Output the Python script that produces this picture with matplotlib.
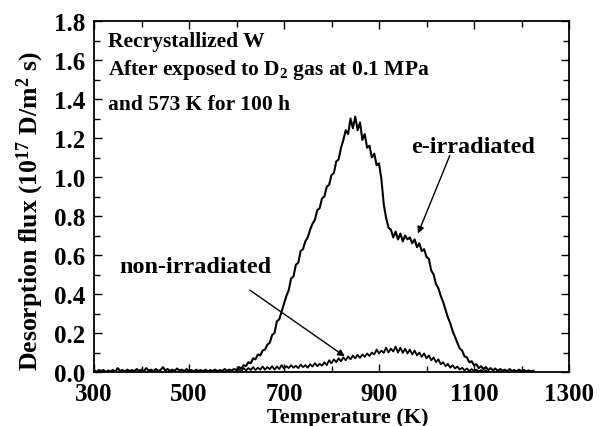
import matplotlib
matplotlib.use("Agg")
import matplotlib.pyplot as plt
from matplotlib.ticker import MultipleLocator, FixedLocator

plt.rcParams['font.family'] = ['Liberation Serif', 'DejaVu Serif']
plt.rcParams['font.weight'] = 'bold'
plt.rcParams['mathtext.fontset'] = 'custom'
plt.rcParams['mathtext.rm'] = 'Liberation Serif:bold'
plt.rcParams['mathtext.bf'] = 'Liberation Serif:bold'
plt.rcParams['mathtext.it'] = 'Liberation Serif:bold:italic'
plt.rcParams['mathtext.default'] = 'rm'

# e-irradiated: temperature (K) and desorption flux (1e17 D/m^2 s)
e_temp = list(range(300, 1230, 5))
e_flux = [
    0.010, 0.000, 0.010, 0.005, 0.010, 0.000, 0.008, 0.003, 0.010, 0.002,
    0.020, 0.005, 0.010, 0.003, 0.012, 0.005, 0.010, 0.004, 0.015, 0.006,
    0.012, 0.005, 0.020, 0.007, 0.012, 0.004, 0.015, 0.006, 0.010, 0.025,
    0.008, 0.015, 0.005, 0.012, 0.006, 0.018, 0.007, 0.012, 0.004, 0.015,
    0.006, 0.010, 0.003, 0.012, 0.005, 0.010, 0.004, 0.012, 0.003, 0.010,
    0.005, 0.012, 0.004, 0.010, 0.006, 0.015, 0.005, 0.012, 0.008, 0.015,
    0.010, 0.025, 0.018, 0.035, 0.030, 0.050, 0.045, 0.070, 0.065, 0.090,
    0.085, 0.110, 0.115, 0.140, 0.150, 0.190, 0.200, 0.260, 0.270, 0.310,
    0.350, 0.390, 0.420, 0.480, 0.490, 0.550, 0.560, 0.620, 0.630, 0.670,
    0.690, 0.730, 0.760, 0.780, 0.830, 0.840, 0.890, 0.900, 0.950, 0.960,
    1.010, 1.020, 1.080, 1.090, 1.150, 1.190, 1.240, 1.220, 1.300, 1.250,
    1.310, 1.240, 1.280, 1.190, 1.220, 1.150, 1.160, 1.100, 1.120, 1.060,
    1.070, 0.990, 0.860, 0.790, 0.740, 0.730, 0.690, 0.720, 0.680, 0.710,
    0.670, 0.700, 0.680, 0.690, 0.660, 0.680, 0.640, 0.660, 0.620, 0.630,
    0.590, 0.580, 0.520, 0.500, 0.450, 0.430, 0.390, 0.360, 0.320, 0.280,
    0.250, 0.210, 0.180, 0.150, 0.120, 0.110, 0.080, 0.075, 0.050, 0.055,
    0.035, 0.040, 0.020, 0.030, 0.015, 0.025, 0.010, 0.020, 0.008, 0.018,
    0.005, 0.015, 0.006, 0.012, 0.004, 0.015, 0.005, 0.010, 0.003, 0.012,
    0.004, 0.010, 0.003, 0.008, 0.002, 0.006,
]

# non-irradiated
n_temp = list(range(600, 1135, 5))
n_flux = [
    0.005, 0.015, 0.005, 0.020, 0.008, 0.020, 0.010, 0.025, 0.010, 0.022,
    0.012, 0.028, 0.012, 0.025, 0.015, 0.030, 0.012, 0.028, 0.015, 0.035,
    0.018, 0.030, 0.020, 0.035, 0.022, 0.032, 0.020, 0.038, 0.025, 0.035,
    0.022, 0.040, 0.028, 0.045, 0.030, 0.042, 0.032, 0.050, 0.035, 0.060,
    0.045, 0.065, 0.050, 0.070, 0.055, 0.075, 0.060, 0.080, 0.065, 0.085,
    0.070, 0.088, 0.072, 0.090, 0.078, 0.095, 0.082, 0.100, 0.090, 0.115,
    0.095, 0.110, 0.098, 0.125, 0.100, 0.120, 0.105, 0.130, 0.100, 0.125,
    0.098, 0.120, 0.095, 0.115, 0.090, 0.110, 0.085, 0.100, 0.078, 0.095,
    0.070, 0.085, 0.060, 0.075, 0.050, 0.065, 0.040, 0.050, 0.030, 0.042,
    0.022, 0.035, 0.018, 0.028, 0.012, 0.022, 0.008, 0.018, 0.005, 0.015,
    0.004, 0.012, 0.003, 0.010, 0.002, 0.008, 0.000,
]

x_ticks = [300, 500, 700, 900, 1100, 1300]
y_ticks = [0.0, 0.2, 0.4, 0.6, 0.8, 1.0, 1.2, 1.4, 1.6, 1.8]

fig = plt.figure(figsize=(6.04, 4.27), dpi=100)
ax = fig.add_axes([94/604, 54/427, 475/604, 351/427])

ax.plot(e_temp, e_flux, color='black', lw=1.5)
ax.plot(n_temp, n_flux, color='black', lw=1.3)

ax.set_xlim(300, 1300)
ax.set_ylim(0, 1.8)
ax.xaxis.set_major_locator(FixedLocator(x_ticks))
ax.xaxis.set_minor_locator(MultipleLocator(100))
ax.yaxis.set_major_locator(FixedLocator(y_ticks))
ax.yaxis.set_minor_locator(MultipleLocator(0.1))
ax.set_xticklabels([str(t) for t in x_ticks])
ax.set_yticklabels([f"{t:.1f}" for t in y_ticks])

ax.tick_params(which='both', direction='in', top=True, right=True, width=1.0)
ax.tick_params(which='major', length=6, labelsize=18, pad=6)
ax.tick_params(axis='x', which='major', pad=7)
ax.tick_params(which='minor', length=4)
for lab in ax.get_xticklabels() + ax.get_yticklabels():
    lab.set_fontweight('bold')
for s in ax.spines.values():
    s.set_linewidth(1.3)

ax.set_xlabel('Temperature (K)', fontsize=16, fontweight='bold')
ax.xaxis.set_label_coords((348-94)/475, -0.10)
ax.set_ylabel('Desorption flux (10$^{17}$ D/m$^{2}$ s)', fontsize=18.5, fontweight='bold')
ax.yaxis.set_label_coords(-0.102, 0.46)

ax.text(329, 1.672, 'Recrystallized W', fontsize=15.5, fontweight='bold', va='baseline')
ax.text(329, 1.528, 'After exposed to D$_2$ gas at 0.1 MPa', fontsize=15.5, fontweight='bold', va='baseline')
ax.text(329, 1.349, 'and 573 K for 100 h', fontsize=15.5, fontweight='bold', va='baseline')

ax.text(1098, 1.128, 'e-irradiated', fontsize=17.5, fontweight='bold', ha='center', va='baseline')
ax.text(514, 0.513, 'non-irradiated', fontsize=17.5, fontweight='bold', ha='center', va='baseline')

ax.annotate('', xy=(982, 0.71), xytext=(1049, 1.11),
            arrowprops=dict(arrowstyle='-|>', color='black', lw=1.0, mutation_scale=10, shrinkA=0, shrinkB=0))
ax.annotate('', xy=(828, 0.08), xytext=(628, 0.42),
            arrowprops=dict(arrowstyle='-|>', color='black', lw=1.0, mutation_scale=10, shrinkA=0, shrinkB=0))

fig.savefig('out.png', dpi=100)
